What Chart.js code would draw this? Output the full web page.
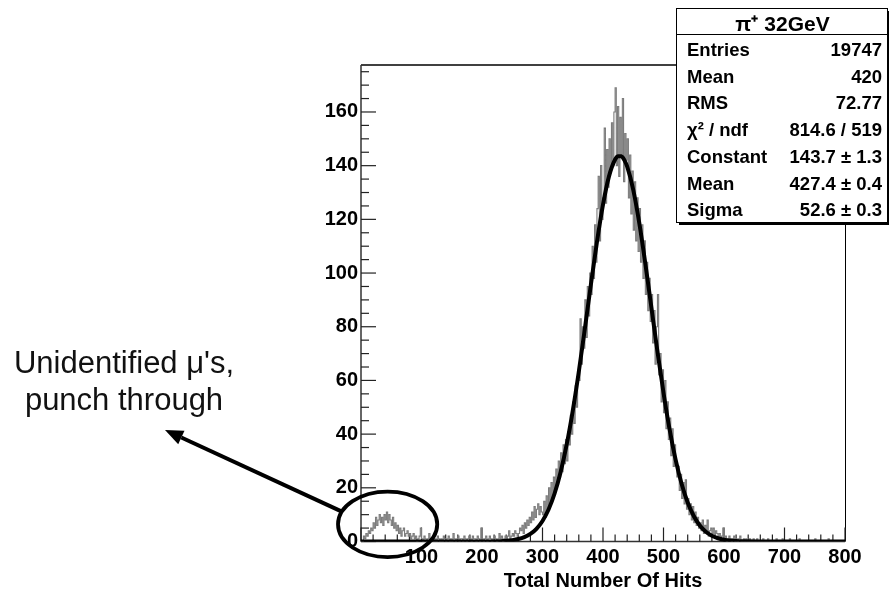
<!DOCTYPE html>
<html><head><meta charset="utf-8">
<script src="https://cdn.jsdelivr.net/npm/chart.js@4.4.1/dist/chart.umd.min.js"></script>
<style>html,body{margin:0;padding:0;background:#fff;}#wrap{width:889px;height:590px;position:relative;}</style>
</head><body><div id="wrap"><canvas id="c" width="889" height="590"></canvas></div>
<script>
// ---- data ----
const binWidth = 2;
const histCounts = [
0,0,2,1,3,2,4,3,5,4,
7,5,9,6,8,10,7,9,6,10,
8,11,7,10,8,6,9,5,7,4,
6,3,5,2,4,5,2,3,4,2,
3,1,2,3,1,2,0,1,2,5,
1,0,2,1,0,1,3,0,1,2,
0,1,0,2,1,0,1,0,2,1,
0,1,2,0,1,0,3,1,0,1,
2,0,1,1,0,2,1,0,1,2,
1,0,2,1,1,0,2,1,0,5,
1,0,1,2,0,1,2,1,0,1,
2,1,0,1,3,1,2,0,1,2,
1,2,4,1,2,3,2,4,3,2,
3,5,4,6,3,7,5,8,6,9,
7,11,8,13,9,12,14,10,13,11,
10,15,9,17,12,20,14,22,16,24,
19,27,21,30,24,33,26,36,29,38,
30,41,36,47,40,52,44,58,50,63,
60,83,66,80,72,90,76,95,84,100,
92,110,98,118,104,124,136,112,140,120,
128,154,126,146,132,150,138,156,140,160,
169,140,162,136,158,144,165,134,152,142,
150,128,144,122,138,116,134,112,128,108,
124,104,118,98,112,92,104,86,98,82,
92,74,86,66,80,92,62,70,52,64,
48,60,42,52,38,46,32,42,28,36,
30,24,28,19,25,16,22,14,23,12,
16,10,14,8,13,7,11,6,9,5,
7,4,8,3,6,4,8,2,4,5,
3,5,2,4,3,1,3,1,2,5,
1,2,0,1,2,1,0,1,2,0,
1,0,1,2,0,0,1,0,1,0,
0,1,0,0,1,0,0,1,0,0,
0,0,1,0,0,0,1,0,0,0,
0,0,0,1,0,0,0,0,1,0,
0,0,0,0,1,0,0,0,0,0,
0,0,1,0,0,0,0,0,0,0,
0,0,0,0,0,1,0,0,0,0,
0,0,0,0,0,0,1,0,0,0,
0,0,0,0,0,0,0,0,0,0
];
const fitX = [0,100,200,230,240,250,260,270,280,290,300,310,320,330,340,350,360,370,380,390,400,410,420,425,430,435,440,450,460,470,480,490,500,510,520,530,540,550,560,570,580,590,600,610,620,630,700,800];
const fitY = [0,0,0,0.13,0.25,0.49,0.91,1.63,2.83,4.74,7.65,11.9,17.88,25.88,36.14,48.67,63.23,79.22,95.75,111.6,125.5,136.1,142.3,143.55,143.5,142.2,139.6,131.0,118.6,103.5,87.16,70.77,55.44,41.87,30.51,21.44,14.53,9.5,5.99,3.64,2.14,1.21,0.66,0.35,0.17,0.09,0,0];
const xTicks = [100,200,300,400,500,600,700,800];
const yTicks = [0,20,40,60,80,100,120,140,160];
const xRange = [0, 800];
const yRange = [0, 177.5];
const xTitle = 'Total Number Of Hits';
const statsTitle = 'π⁺ 32GeV';
const statsLabels = ['Entries','Mean','RMS','χ² / ndf','Constant','Mean','Sigma'];
const statsValues = ['19747','420','72.77','814.6 / 519','143.7 ± 1.3','427.4 ± 0.4','52.6 ± 0.3'];
const noteLines = ["Unidentified μ's,", 'punch through'];
const circled = {x: 44, y: 6.4, rx: 82, ry: 12.2};

// ---- build ----
const histPts = histCounts.map((v,i)=>({x:i*binWidth, y:v}));
histPts.push({x: histCounts.length*binWidth, y: histCounts[histCounts.length-1]});
const fitPts = fitX.map((x,i)=>({x:x, y:fitY[i]}));
const FONT = "'Liberation Sans', Arial, Helvetica, sans-serif";

const decor = {
  id:'decor',
  beforeDatasetsDraw(chart){
    const {ctx, chartArea:a, scales:{x,y}} = chart;
    ctx.save();
    ctx.strokeStyle='#000'; ctx.lineWidth=1.5;
    ctx.beginPath(); ctx.moveTo(a.left,a.top); ctx.lineTo(a.right+1,a.top); ctx.stroke();
    ctx.lineWidth=1;
    ctx.beginPath(); ctx.moveTo(a.right+0.5,a.top); ctx.lineTo(a.right+0.5,a.bottom); ctx.stroke();
    ctx.strokeStyle='#333'; ctx.lineWidth=1.5;
    ctx.beginPath(); ctx.moveTo(a.left,a.top); ctx.lineTo(a.left,a.bottom); ctx.stroke();
    ctx.beginPath(); ctx.moveTo(a.left,a.bottom); ctx.lineTo(a.right,a.bottom); ctx.stroke();
    ctx.lineWidth=1.2; ctx.strokeStyle='#222';
    for(let v=0; v<=y.max+0.01; v+=5){
      const py=y.getPixelForValue(v); const len=(v%20===0)?15:8;
      ctx.beginPath(); ctx.moveTo(a.left,py); ctx.lineTo(a.left+len,py); ctx.stroke();
    }
    for(let v=0; v<=x.max; v+=20){
      const px=x.getPixelForValue(v); const len=(v%100===0)?14:7;
      ctx.beginPath(); ctx.moveTo(px,a.bottom); ctx.lineTo(px,a.bottom-len); ctx.stroke();
    }
    ctx.restore();
  },
  afterDraw(chart){
    const {ctx, chartArea:a, scales:{x,y}} = chart;
    ctx.save();
    // x title
    ctx.fillStyle='#000'; ctx.font="bold 20px "+FONT; ctx.textAlign='center'; ctx.textBaseline='alphabetic';
    ctx.fillText(xTitle,(a.left+a.right)/2,587);
    // stats box
    const bx=676, by=8, bw=211, bh=214;
    ctx.fillStyle='#000'; ctx.fillRect(bx+3,by+3,bw,bh);
    ctx.fillStyle='#fff'; ctx.fillRect(bx,by,bw,bh);
    ctx.strokeStyle='#000'; ctx.lineWidth=1;
    ctx.strokeRect(bx+0.5,by+0.5,bw,bh);
    ctx.beginPath(); ctx.moveTo(bx,by+26.5); ctx.lineTo(bx+bw,by+26.5); ctx.stroke();
    ctx.fillStyle='#000'; ctx.font="bold 21px "+FONT; ctx.textAlign='center';
    ctx.fillText(statsTitle,bx+bw/2+1,31);
    ctx.font="bold 18.5px "+FONT;
    for(let i=0;i<statsLabels.length;i++){
      const yy=56+i*26.7;
      ctx.textAlign='left'; ctx.fillText(statsLabels[i],687,yy);
      ctx.textAlign='right'; ctx.fillText(statsValues[i],882,yy);
    }
    // ellipse
    const cx=x.getPixelForValue(circled.x), cy=y.getPixelForValue(circled.y);
    const rx=x.getPixelForValue(circled.x+circled.rx)-cx, ry=cy-y.getPixelForValue(circled.y+circled.ry);
    ctx.strokeStyle='#000'; ctx.lineWidth=3.8;
    ctx.beginPath(); ctx.ellipse(cx,cy,rx,ry,0,0,Math.PI*2); ctx.stroke();
    // arrow
    const th=Math.PI+0.4;
    const sx=cx+rx*Math.cos(th), sy=cy+ry*Math.sin(th);
    const tx=165, ty=430;
    const ang=Math.atan2(ty-sy,tx-sx);
    const hl=18, hw=7.5;
    const bxp=tx-hl*Math.cos(ang), byp=ty-hl*Math.sin(ang);
    ctx.lineWidth=4;
    ctx.beginPath(); ctx.moveTo(sx,sy); ctx.lineTo(bxp,byp); ctx.stroke();
    ctx.fillStyle='#000';
    ctx.beginPath(); ctx.moveTo(tx,ty);
    ctx.lineTo(bxp+hw*Math.sin(ang), byp-hw*Math.cos(ang));
    ctx.lineTo(bxp-hw*Math.sin(ang), byp+hw*Math.cos(ang));
    ctx.closePath(); ctx.fill();
    // note text
    ctx.fillStyle='#111'; ctx.font="31px "+FONT; ctx.textAlign='center';
    ctx.fillText(noteLines[0],124,373);
    ctx.fillText(noteLines[1],124,410);
    ctx.restore();
  }
};

new Chart(document.getElementById('c'),{
  type:'line',
  data:{datasets:[
    {label:'fit', data:fitPts, borderColor:'#000', borderWidth:4, pointRadius:0, cubicInterpolationMode:'monotone', fill:false},
    {label:'hist', data:histPts, borderColor:'#7c7c7c', borderWidth:1.1, pointRadius:0, stepped:'before', fill:false}
  ]},
  options:{
    responsive:false, animation:false, devicePixelRatio:1,
    layout:{padding:{top:65,right:44,left:0,bottom:0}},
    plugins:{legend:{display:false}, tooltip:{enabled:false}},
    scales:{
      x:{type:'linear', min:xRange[0], max:xRange[1],
        grid:{display:false, drawTicks:false}, border:{display:false},
        afterBuildTicks(s){ s.ticks = xTicks.map(v=>({value:v})); },
        afterFit(s){ s.height = 48.5; },
        ticks:{color:'#000', font:{family:FONT, size:20, weight:'bold'}, padding:4, maxRotation:0, autoSkip:false}
      },
      y:{type:'linear', min:yRange[0], max:yRange[1],
        grid:{display:false, drawTicks:false}, border:{display:false},
        afterBuildTicks(s){ s.ticks = yTicks.map(v=>({value:v})); },
        afterFit(s){ s.width = 361; },
        ticks:{color:'#000', font:{family:FONT, size:20, weight:'bold'}, padding:3, autoSkip:false}
      }
    }
  },
  plugins:[decor]
});
</script></body></html>
